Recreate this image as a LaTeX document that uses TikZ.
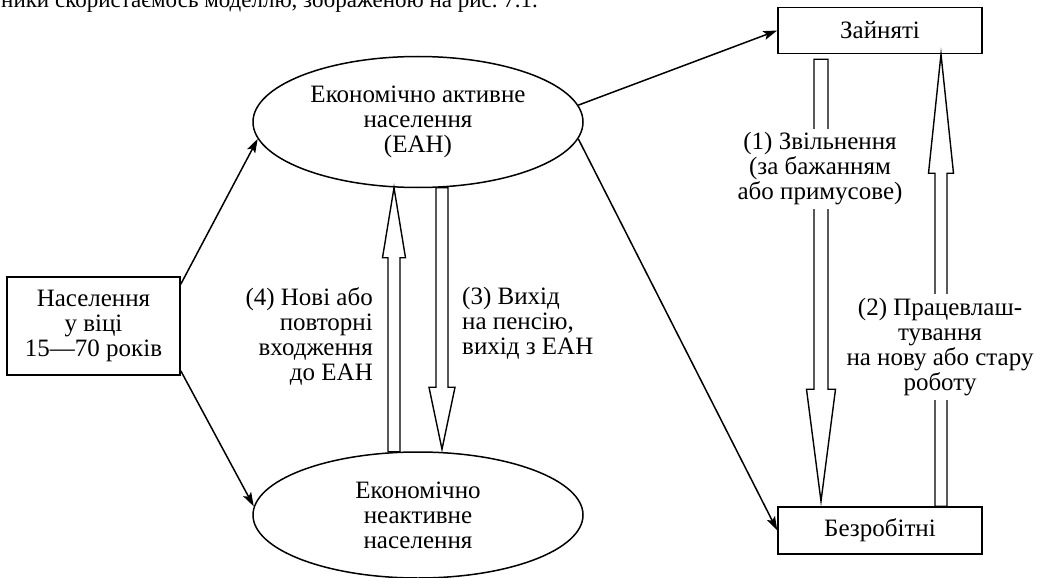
\documentclass[tikz,border=0pt]{standalone}
\usepackage{fontspec}
\setmainfont{Liberation Serif}
\usetikzlibrary{shapes.geometric,arrows.meta,calc}
\newcommand\hollowarrow[5]{% from, to, half shaft, half head, signed head length
  \draw[hollow] ($(#1)+(-#3,0)$) -- ($(#2)+(-#3,#5)$) -- ($(#2)+(-#4,#5)$) -- (#2) -- ($(#2)+(#4,#5)$) -- ($(#2)+(#3,#5)$) -- ($(#1)+(#3,0)$) -- cycle;}
\tikzset{
  every node/.style={font=\fontsize{25}{25}\selectfont},
  oval/.style={ellipse, draw, line width=1.5pt, inner sep=0pt, minimum width=330pt, minimum height=131pt, align=center},
  box/.style={rectangle, draw, line width=1.5pt, inner sep=0pt, align=center},
  thin arrow/.style={line width=1.5pt, -{Stealth[length=14pt,width=9pt,inset=3pt]}},
  hollow/.style={line width=1.4pt, fill=white, line join=miter},
  lbl/.style={fill=white, inner sep=4pt},
}
\begin{document}
\begin{tikzpicture}[x=1pt,y=-1pt]
\path[use as bounding box, clip] (0,0) rectangle (1045,578);
\node[anchor=base west, inner sep=0pt, font=\fontsize{23}{25}\selectfont] (toptext) at (1,8) {ники скористаємось моделлю, зображеною на рис.~7.1.};

\node[oval] (eah) at (418,122) {Економічно активне\\населення\\(ЕАН)};
\node[oval, minimum height=126pt] (neah) at (418,515) {Економічно\\неактивне\\населення};
\node[box, minimum width=173pt, minimum height=98pt] (pop) at (93.5,326) {Населення\\у віці\\15—70 років};
\node[box, minimum width=204pt, minimum height=46pt] (zain) at (880,30.5) {Зайняті};
\node[box, minimum width=204pt, minimum height=47pt] (bez) at (880,530.5) {Безробітні};

% thin arrows
\coordinate (p1) at ($(pop.north east)+(0,8)$);
\coordinate (p2) at ($(pop.south east)+(0,-5)$);
\draw[thin arrow] (p1) -- (eah.186);
\draw[thin arrow] (p2) -- (neah.177);
\draw[thin arrow] (eah.6) -- (zain.west);
\draw[thin arrow] (eah.-6) -- (bez.west);

% hollow arrows between ellipses
\coordinate (a4s) at ($(neah.north)+(-24,0.5)$);
\coordinate (a4e) at ($(eah.south)+(-24,-0.5)$);
\coordinate (a3s) at ($(eah.south)+(24,-0.5)$);
\coordinate (a3e) at ($(neah.north)+(24,-2)$);
\hollowarrow{a4s}{a4e}{6}{11.5}{70}
\hollowarrow{a3s}{a3e}{6}{13}{-62}

% hollow arrows between boxes
\coordinate (a1s) at ($(zain.south)+(-59,5)$);
\coordinate (a1e) at ($(bez.north)+(-59,-5)$);
\coordinate (a2s) at ($(bez.north)+(61,0)$);
\coordinate (a2e) at ($(zain.south)+(61,0)$);
\hollowarrow{a1s}{a1e}{7}{14.5}{-112}
\hollowarrow{a2s}{a2e}{6}{12.5}{119}

% labels
\node[lbl, align=center] (l1) at (820,169) {(1) Звільнення\\(за бажанням\\або примусове)};
\node[lbl, align=center] (l2) at (940,347) {(2) Працевлаш-\\тування\\на нову або стару\\роботу};
\node[align=right, anchor=north east, inner sep=0pt] (l4) at (373,287) {(4) Нові або\\повторні\\входження\\до ЕАН};
\node[align=left, anchor=north west, inner sep=0pt] (l3) at (462,287) {(3) Вихід\\на пенсію,\\вихід з ЕАН};
\end{tikzpicture}
\end{document}
